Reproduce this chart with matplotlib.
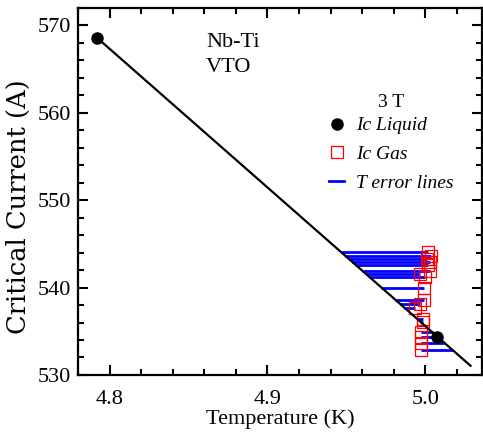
import numpy as np
import matplotlib
matplotlib.use("Agg")
import matplotlib.pyplot as plt
from matplotlib.lines import Line2D
from matplotlib.ticker import MultipleLocator
from matplotlib.transforms import IdentityTransform

plt.rcParams['font.family'] = ['Liberation Serif', 'DejaVu Serif']

# Ic Liquid (black dots)
liq_T = [4.792, 5.0076]
liq_I = [568.6, 534.4]

# Ic Gas (red squares)
gas_T = [5.0017, 5.0036, 5.0011, 5.0030, 5.0017, 5.0030, 4.9967, 4.9998, 4.9992,
         4.9992, 4.9967, 4.9935, 4.9986, 4.9986, 4.9973, 4.9973, 4.9973, 4.9973]
gas_I = [544.11, 543.66, 543.31, 542.97, 542.63, 541.94, 541.60, 541.26, 540.00,
         538.63, 538.17, 537.71, 536.46, 536.11, 534.86, 534.29, 533.71, 532.80]

line_T_range = [4.792, 5.0287]

fig = plt.figure(figsize=(4.83, 4.36), dpi=100)
ax = fig.add_axes([0.1615, 0.14, 0.8365, 0.8417])

# fitted liquid line
slope, icpt = np.polyfit(liq_T, liq_I, 1)
lt = np.array(line_T_range)

# T error lines: from gas point to liquid line at same Ic
for t, i in zip(gas_T, gas_I):
    t_line = (i - icpt) / slope
    ax.plot([t, t_line], [i, i], color='#0000ff', lw=2.0, zorder=2, solid_capstyle='butt')

ax.plot(gas_T, gas_I, linestyle='none', marker='s', markersize=8.5, markerfacecolor='none',
        markeredgecolor='#ff0000', markeredgewidth=0.9, zorder=3)
ax.plot(lt, slope * lt + icpt, color='black', lw=1.6, zorder=4)
ax.plot(liq_T, liq_I, linestyle='none', marker='o', markersize=8, color='black', zorder=5)

ax.set_xlim(4.78, 5.036)
ax.set_ylim(530, 572)
ax.set_xticks([4.8, 4.9, 5.0])
ax.set_xticklabels(['4.8', '4.9', '5.0'])
ax.set_yticks([530, 540, 550, 560, 570])
ax.xaxis.set_minor_locator(MultipleLocator(0.02))
ax.yaxis.set_minor_locator(MultipleLocator(2))
ax.tick_params(which='both', direction='in', top=True, right=True, width=1.5, labelsize=16)
ax.tick_params(which='major', length=7)
ax.tick_params(which='minor', length=4.5)
ax.tick_params(axis='x', pad=11)
ax.tick_params(axis='y', pad=5)
for s in ax.spines.values():
    s.set_linewidth(1.6)

ax.set_xlabel('Temperature (K)', fontsize=16, labelpad=0)
ax.set_ylabel('Critical Current (A)', fontsize=18.5, family=['DejaVu Serif'])
ax.yaxis.set_label_coords(-0.117, 0.458)

ax.text(206, 436 - 33, 'Nb-Ti\nVTO', transform=IdentityTransform(), fontsize=16,
        va='top', ha='left', linespacing=1.4)

handles = [
    Line2D([], [], linestyle='none', marker='o', markersize=8, color='black'),
    Line2D([], [], linestyle='none', marker='s', markersize=8.5, markerfacecolor='none',
           markeredgecolor='#ff0000', markeredgewidth=0.9),
    Line2D([], [], color='#0000ff', lw=2.0),
]
labels = ['Ic Liquid', 'Ic Gas', 'T error lines']
leg = ax.legend(handles, labels, title='3 T', loc='upper left',
                bbox_to_anchor=(0.621, 0.765), frameon=False,
                prop={'style': 'italic', 'size': 14}, title_fontsize=14,
                handlelength=0.8, handletextpad=0.6, labelspacing=0.58,
                borderaxespad=0, borderpad=0)
leg._legend_box.sep = 4

fig.savefig('out.png', dpi=100)
